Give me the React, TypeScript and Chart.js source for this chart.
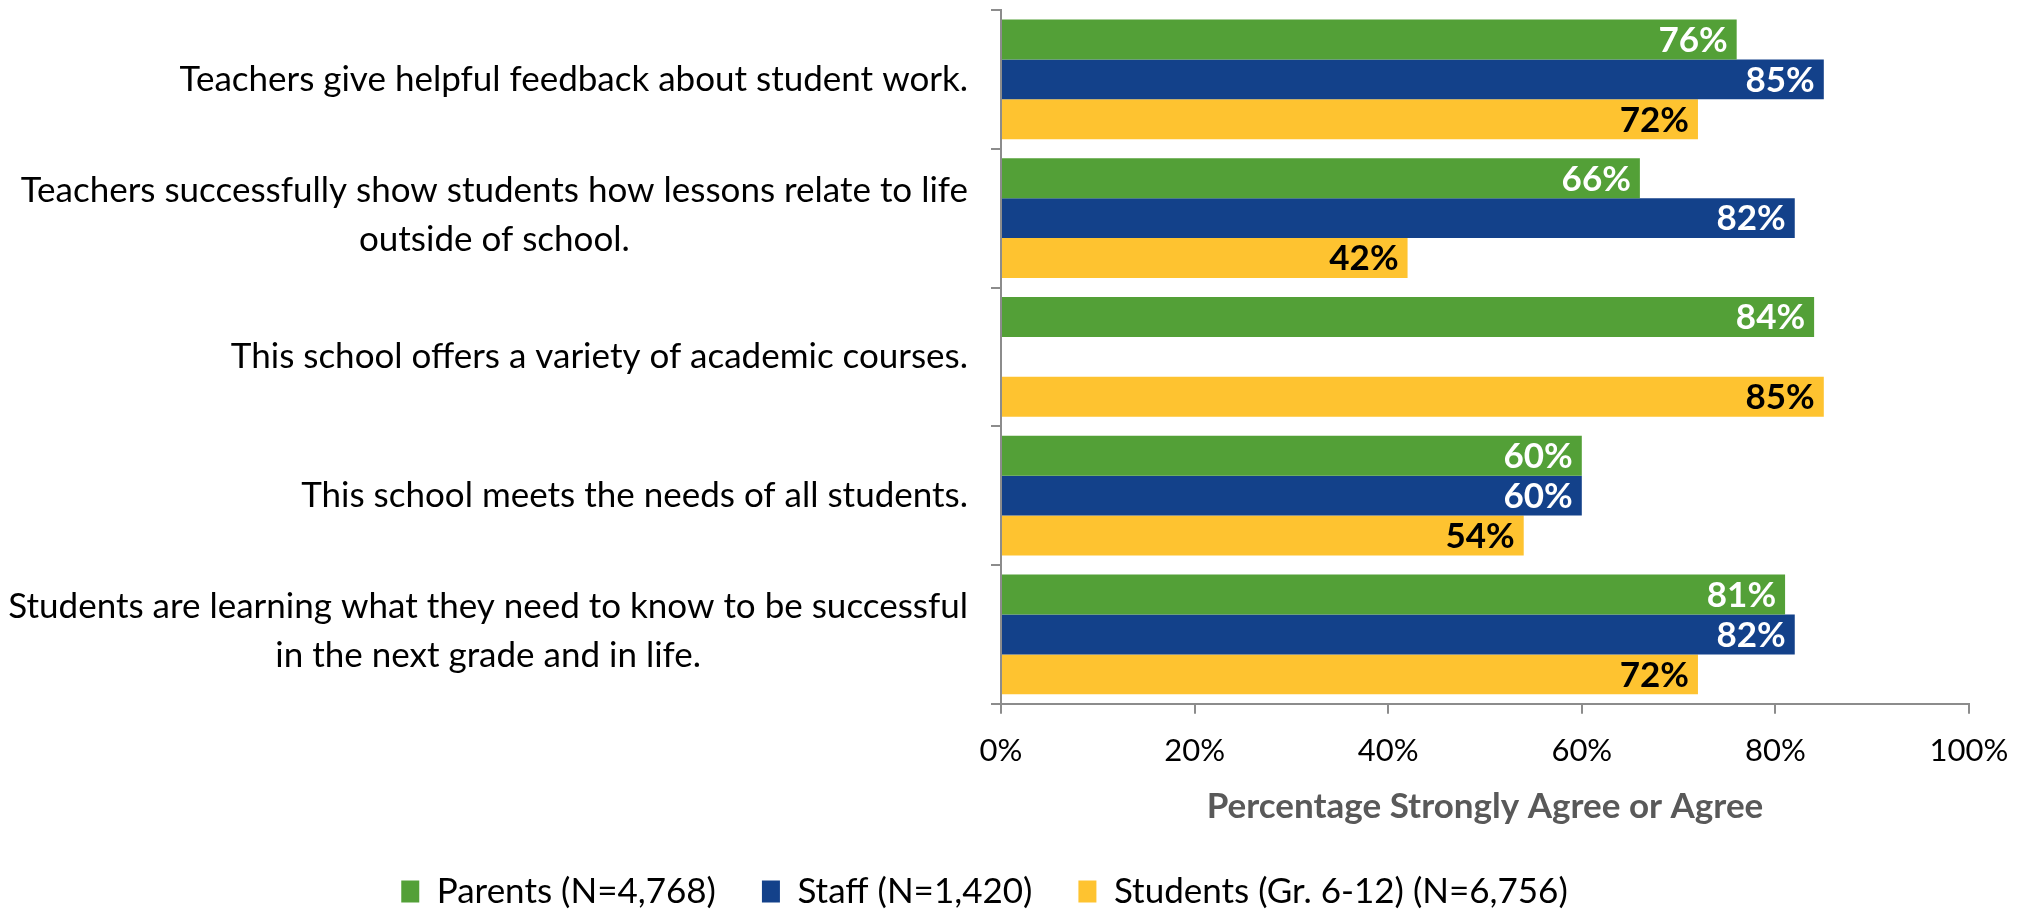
import React, { useEffect, useRef } from 'react';
import { Chart, registerables } from 'chart.js';

Chart.register(...registerables);

const categories: string[][] = [
  ['Teachers give helpful feedback about student work.'],
  ['Teachers successfully show students how lessons relate to life', 'outside of school.'],
  ['This school offers a variety of academic courses.'],
  ['This school meets the needs of all students.'],
  ['Students are learning what they need to know to be successful', 'in the next grade and in life.'],
];
const parentsValues: (number | null)[] = [76, 66, 84, 60, 81];
const staffValues: (number | null)[] = [85, 82, null, 60, 82];
const studentsValues: (number | null)[] = [72, 42, 85, 54, 72];
const seriesNames = ['Parents (N=4,768)', 'Staff (N=1,420)', 'Students (Gr. 6-12) (N=6,756)'];
const seriesColors = ['#53A037', '#13418A', '#FEC330'];
const valueLabelColors = ['#FFFFFF', '#FFFFFF', '#000000'];
const xTickValues = [0, 20, 40, 60, 80, 100];
const xAxisTitle = 'Percentage Strongly Agree or Agree';

const FONT = 'Lato';
const FS = 35;

const categoryLabelPlugin = {
  id: 'categoryLabels',
  afterDraw(chart: any) {
    const ctx = chart.ctx;
    const y = chart.scales.y;
    const rightX = y.right - 33;
    const lh = 49;
    ctx.save();
    ctx.font = `${FS}px ${FONT}`;
    ctx.fillStyle = '#000000';
    ctx.textAlign = 'center';
    ctx.textBaseline = 'middle';
    categories.forEach((lines, i) => {
      const cy = y.getPixelForTick(i) - (lines.length > 1 ? 3 : 0);
      const maxW = Math.max(...lines.map((l) => ctx.measureText(l).width));
      const cx = rightX - maxW / 2;
      const startY = cy - ((lines.length - 1) * lh) / 2;
      lines.forEach((l, j) => ctx.fillText(l, cx, startY + j * lh));
    });
    ctx.restore();
  },
};

const valueLabelPlugin = {
  id: 'valueLabels',
  afterDatasetsDraw(chart: any) {
    const ctx = chart.ctx;
    ctx.save();
    ctx.font = `bold ${FS}px ${FONT}`;
    ctx.textAlign = 'right';
    ctx.textBaseline = 'middle';
    chart.data.datasets.forEach((ds: any, di: number) => {
      const meta = chart.getDatasetMeta(di);
      meta.data.forEach((el: any, i: number) => {
        const v = ds.data[i];
        if (v === null || v === undefined) return;
        ctx.fillStyle = valueLabelColors[di];
        ctx.fillText(`${v}%`, el.x - 9, el.y + 1);
      });
    });
    ctx.restore();
  },
};

export default function App() {
  const ref = useRef<HTMLCanvasElement>(null);
  useEffect(() => {
    document.body.style.margin = '0';
    const allSeries = [parentsValues, staffValues, studentsValues];
    const chart = new Chart(ref.current as HTMLCanvasElement, {
      type: 'bar',
      data: {
        labels: categories.map((c) => c.join(' ')),
        datasets: allSeries.map((vals, i) => ({
          label: seriesNames[i],
          data: vals,
          backgroundColor: seriesColors[i],
          borderWidth: 0,
          categoryPercentage: 0.863,
          barPercentage: 1.0,
        })),
      },
      options: {
        indexAxis: 'y',
        animation: false,
        responsive: true,
        maintainAspectRatio: false,
        layout: { padding: { left: 0, right: 61, top: 10, bottom: -10 } },
        scales: {
          x: {
            min: 0,
            max: 100,
            afterBuildTicks: (scale: any) => {
              scale.ticks = xTickValues.map((v) => ({ value: v }));
            },
            ticks: {
              callback: (v: any) => `${v}%`,
              font: { family: FONT, size: 31 },
              color: '#000000',
              padding: 19,
            },
            grid: {
              drawOnChartArea: false,
              drawTicks: true,
              tickLength: 10,
              color: '#8C8C8C',
              lineWidth: 2,
            },
            border: { display: true, color: '#8C8C8C', width: 2 },
            title: {
              display: true,
              text: xAxisTitle,
              color: '#595959',
              font: { family: FONT, size: FS, weight: 'bold', lineHeight: 1.0 },
              padding: { top: 0, bottom: 4 },
            },
          },
          y: {
            afterFit: (scale: any) => {
              scale.width = 1001;
            },
            ticks: { display: false },
            grid: {
              offset: true,
              drawOnChartArea: false,
              drawTicks: true,
              tickLength: 10,
              color: '#8C8C8C',
              lineWidth: 2,
            },
            border: { display: true, color: '#8C8C8C', width: 2 },
          },
        },
        plugins: {
          legend: {
            position: 'bottom',
            labels: {
              boxWidth: 18,
              boxHeight: 22,
              padding: 46,
              color: '#000000',
              font: { family: FONT, size: FS },
            },
          },
          tooltip: { enabled: false },
        },
      },
      plugins: [categoryLabelPlugin, valueLabelPlugin],
    } as any);
    return () => chart.destroy();
  }, []);
  return (
    <div style={{ position: 'relative', width: 2030, height: 909 }}>
      <canvas ref={ref} />
    </div>
  );
}
